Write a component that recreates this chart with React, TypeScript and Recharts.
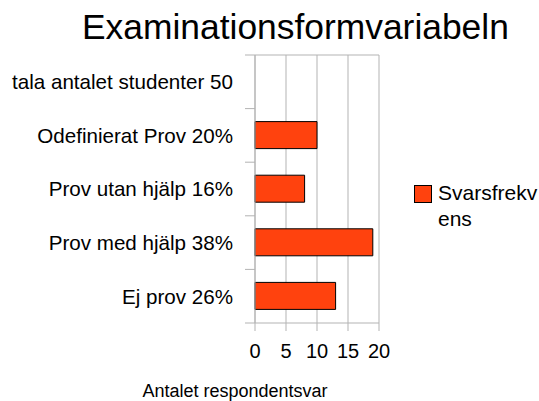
import {
  BarChart, Bar, XAxis, YAxis, CartesianGrid, Legend, Label,
} from "recharts";

// categories top to bottom, as in the reference
const categories = [
  "tala antalet studenter 50",
  "Odefinierat Prov 20%",
  "Prov utan hjälp 16%",
  "Prov med hjälp 38%",
  "Ej prov 26%",
];
const svarsfrekvens = [0, 10, 8, 19, 13];
const xTicks = [0, 5, 10, 15, 20];

const seriesName = "Svarsfrekvens";
const FONT = "'Liberation Sans', Arial, sans-serif";
const GRID = "#b3b3b3";
const PLOT_W = 124;
const BAND = 268 / categories.length;

const data = categories.map((name, i) => ({ name, value: svarsfrekvens[i] }));

// y ticks: label at band centre, tick marks at band borders like the original
const YTick = (props: any) => {
  const { x, y, payload, index } = props;
  const axisX = x + 22;
  return (
    <g>
      {index === 0 && (
        <line x1={axisX - 10} x2={axisX + PLOT_W} y1={y - BAND / 2} y2={y - BAND / 2} stroke={GRID} />
      )}
      <line x1={axisX - 10} x2={axisX} y1={y + BAND / 2} y2={y + BAND / 2} stroke={GRID} />
      <text x={x} y={y} dy="0.355em" textAnchor="end" fontSize={20.6} fontFamily={FONT} fill="#000">
        {payload.value}
      </text>
    </g>
  );
};

const LegendBox = () => (
  <div style={{ display: "flex", alignItems: "flex-start", fontFamily: FONT, fontSize: 21, color: "#000" }}>
    <div style={{ width: 16, height: 16, background: "#ff420e", border: "1px solid #000", flexShrink: 0 }} />
    <div style={{ marginLeft: 6, width: 101, wordBreak: "break-all", lineHeight: "26px", marginTop: -5 }}>
      {seriesName}
    </div>
  </div>
);

function App() {
  return (
    <div style={{ position: "absolute", left: 0, top: 0, width: 539, height: 401, background: "#fff" }}>
      <div
        style={{
          position: "absolute", left: 82, top: 7, fontFamily: FONT, fontSize: 35.4,
          color: "#000", whiteSpace: "nowrap", lineHeight: "normal",
        }}
      >
        Examinationsformvariabeln
      </div>
      <BarChart
        width={539}
        height={401}
        data={data}
        layout="vertical"
        margin={{ top: 55, right: 160, bottom: 0, left: 0 }}
        style={{ fontFamily: FONT }}
      >
        <CartesianGrid horizontal={false} stroke={GRID} />
        <XAxis
          type="number"
          domain={[0, 20]}
          ticks={xTicks}
          interval={0}
          height={78}
          tickSize={8}
          tickMargin={13}
          stroke={GRID}
          tick={{ fill: "#000", fontSize: 20, fontFamily: FONT }}
        >
          <Label
            value="Antalet respondentsvar"
            position="insideBottom"
            offset={4}
            dx={-82}
            style={{ fill: "#000", fontSize: 18, fontFamily: FONT }}
          />
        </XAxis>
        <YAxis
          type="category"
          dataKey="name"
          width={255}
          tickSize={10}
          tickMargin={12}
          tickLine={false}
          stroke={GRID}
          interval={0}
          tick={YTick}
        />
        <Legend
          layout="horizontal"
          verticalAlign="middle"
          align="center"
          content={LegendBox}
          wrapperStyle={{ position: "absolute", left: 414, top: 185, width: 125 }}
        />
        <Bar
          dataKey="value"
          name={seriesName}
          fill="#ff420e"
          stroke="#000"
          strokeWidth={1}
          barSize={27}
          isAnimationActive={false}
        />
      </BarChart>
    </div>
  );
}

export default App;
